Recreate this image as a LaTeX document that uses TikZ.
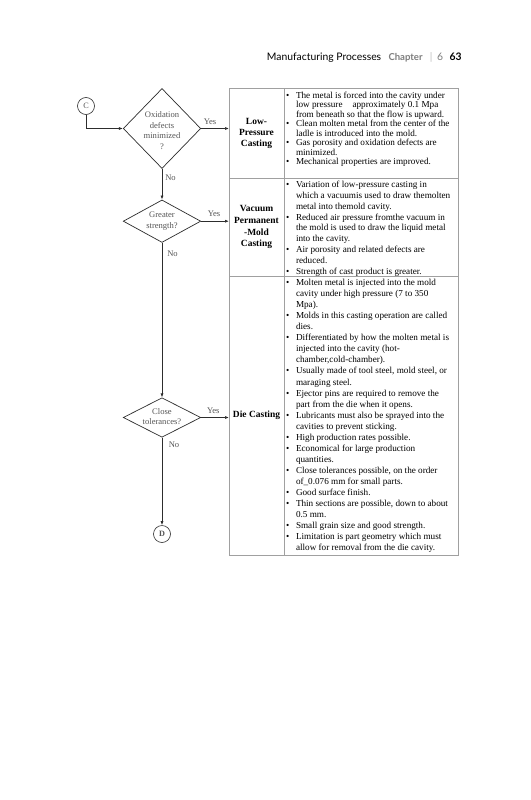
\documentclass[tikz,border=0pt]{standalone}
\usepackage{fontspec}
\setmainfont{Liberation Serif}
\newfontfamily\hdrfont{Lato}
\usetikzlibrary{shapes.geometric,arrows.meta}
\definecolor{linec}{RGB}{45,45,45}
\definecolor{txtg}{RGB}{85,85,85}
\definecolor{cellc}{RGB}{160,160,160}
\definecolor{hdrgray}{RGB}{125,125,125}
\begin{document}
\begin{tikzpicture}[x=1bp,y=-1bp,
  dec/.style={diamond, draw=linec, line width=0.7bp, inner sep=0pt, minimum width=77.5bp},
  ftext/.style={font=\fontsize{8.6}{10.5}\selectfont, text=txtg, align=center, inner sep=0pt},
  conn/.style={circle, draw=linec, line width=0.6bp, minimum size=17bp, inner sep=0pt, font=\fontsize{8.2}{9}\selectfont, text=txtg},
  arr/.style={draw=linec, line width=0.7bp, -{Latex[length=4bp,width=3bp]}},
  yn/.style={font=\fontsize{8.6}{10}\selectfont, text=txtg, inner sep=0pt},
  cell/.style={rectangle, draw=cellc, line width=0.6bp, inner sep=0pt, outer sep=0pt},
  lab/.style={align=center, inner sep=0pt},
  bul/.style={anchor=base west, inner sep=0pt},
  hdr/.style={anchor=base west, inner sep=0pt}]
\useasboundingbox (0,0) rectangle (531,800);
\fill[white] (0,0) rectangle (531,800);

% header
\node[hdr, font=\hdrfont\fontsize{10.4}{12}\selectfont] (h1) at (266.7,60.7) {Manufacturing Processes};
\node[hdr, font=\hdrfont\bfseries\fontsize{9.6}{12}\selectfont, text=hdrgray] (h2) at (388.3,60.7) {Chapter};
\node[hdr, font=\hdrfont\fontsize{10.4}{12}\selectfont, text=hdrgray!50] (h3) at (429.7,60.7) {|};
\node[hdr, font=\hdrfont\fontsize{10.4}{12}\selectfont, text=hdrgray] (h4) at (436.8,60.7) {6};
\node[hdr, font=\hdrfont\bfseries\fontsize{10.4}{12}\selectfont] (h5) at (449.3,60.7) {63};

% table cells
\node[cell, minimum width=55bp, minimum height=89.7bp, lab, font=\fontsize{9.5}{11.2}\selectfont\bfseries] (lpl) at (256.5,133.15) {Low-\\Pressure\\Casting};
\node[cell, minimum width=174bp, minimum height=89.7bp] (lpt) at (371,133.15) {};
\node[cell, minimum width=55bp, minimum height=98bp, lab, font=\fontsize{9.5}{12}\selectfont\bfseries] (vpl) at (256.5,227) {Vacuum\\Permanent\\-Mold\\Casting};
\node[cell, minimum width=174bp, minimum height=98bp] (vpt) at (371,227) {};
\node[cell, minimum width=55bp, minimum height=279bp, lab, font=\fontsize{9.5}{11.2}\selectfont\bfseries] (dcl) at (256.5,415.5) {Die Casting};
\node[cell, minimum width=174bp, minimum height=279bp] (dct) at (371,415.5) {};

\node[bul, font=\fontsize{9.2}{9.6}\selectfont] (lpx) at (286,98) {\begin{tabular}[t]{@{}l@{\hspace{6.6bp}}l@{}}
\textbullet & The metal is forced into the cavity under\\
 & low pressure\hspace{10bp}approximately 0.1 Mpa\\
 & from beneath so that the flow is upward.\\
\textbullet & Clean molten metal from the center of the\\
 & ladle is introduced into the mold.\\
\textbullet & Gas porosity and oxidation defects are\\
 & minimized.\\
\textbullet & Mechanical properties are improved.
\end{tabular}};

\node[bul, font=\fontsize{9.2}{10.9}\selectfont] (vpx) at (286,187.5) {\begin{tabular}[t]{@{}l@{\hspace{6.6bp}}l@{}}
\textbullet & Variation of low-pressure casting in\\
 & which a vacuumis used to draw themolten\\
 & metal into themold cavity.\\
\textbullet & Reduced air pressure fromthe vacuum in\\
 & the mold is used to draw the liquid metal\\
 & into the cavity.\\
\textbullet & Air porosity and related defects are\\
 & reduced.\\
\textbullet & Strength of cast product is greater.
\end{tabular}};

\node[bul, font=\fontsize{9.2}{11.1}\selectfont] (dcx) at (286,285.5) {\begin{tabular}[t]{@{}l@{\hspace{6.6bp}}l@{}}
\textbullet & Molten metal is injected into the mold\\
 & cavity under high pressure (7 to 350\\
 & Mpa).\\
\textbullet & Molds in this casting operation are called\\
 & dies.\\
\textbullet & Differentiated by how the molten metal is\\
 & injected into the cavity (hot-\\
 & chamber,cold-chamber).\\
\textbullet & Usually made of tool steel, mold steel, or\\
 & maraging steel.\\
\textbullet & Ejector pins are required to remove the\\
 & part from the die when it opens.\\
\textbullet & Lubricants must also be sprayed into the\\
 & cavities to prevent sticking.\\
\textbullet & High production rates possible.\\
\textbullet & Economical for large production\\
 & quantities.\\
\textbullet & Close tolerances possible, on the order\\
 & of\_0.076 mm for small parts.\\
\textbullet & Good surface finish.\\
\textbullet & Thin sections are possible, down to about\\
 & 0.5 mm.\\
\textbullet & Small grain size and good strength.\\
\textbullet & Limitation is part geometry which must\\
 & allow for removal from the die cavity.
\end{tabular}};

% flowchart
\node[conn] (cC) at (86,106) {C};
\node[dec, minimum height=80bp] (d1) at (162,128.5) {};
\node[dec, minimum height=42.5bp] (d2) at (162,221.2) {};
\node[dec, minimum height=39.5bp] (d3) at (162,417.5) {};
\node[conn, font=\fontsize{8.2}{9}\selectfont\bfseries] (cD) at (162,534) {D};

\node[ftext] (t1) at (162,130.7) {Oxidation\\defects\\minimized\\?};
\node[ftext] (t2) at (162,221.2) {Greater\\strength?};
\node[ftext] (t3) at (162,416.7) {Close\\tolerances?};

\draw[arr] (cC.south) |- (d1.west);
\draw[arr] (d1.east) -- (d1.east -| lpl.west);
\draw[arr] (d1.south) -- (d2.north);
\draw[arr] (d2.east) -- (d2.east -| vpl.west);
\draw[arr] (d2.south) -- (d3.north);
\draw[arr] (d3.east) -- (d3.east -| dcl.west);
\draw[arr] (d3.south) -- (cD.north);

\node[yn] (y1) at (210,121.7) {Yes};
\node[yn] (y2) at (214,213.3) {Yes};
\node[yn] (y3) at (213.3,410.7) {Yes};
\node[yn] (n1) at (170.5,177.3) {No};
\node[yn] (n2) at (172.5,253.3) {No};
\node[yn] (n3) at (174,444.3) {No};
\end{tikzpicture}
\end{document}
